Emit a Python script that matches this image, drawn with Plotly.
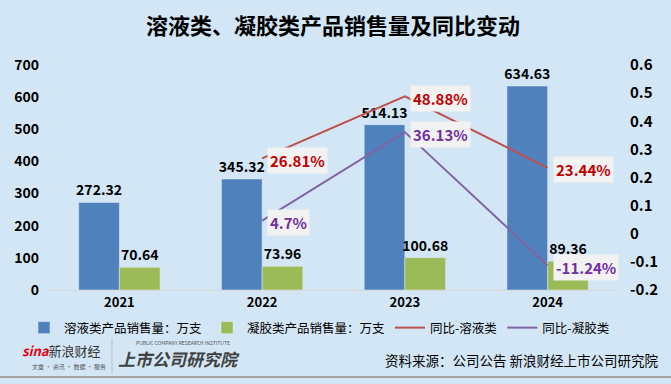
import plotly.graph_objects as go

years = ["2021", "2022", "2023", "2024"]
solution_sales = [272.32, 345.32, 514.13, 634.63]
gel_sales = [70.64, 73.96, 100.68, 89.36]
yoy_solution = [None, 0.2681, 0.4888, 0.2344]
yoy_gel = [None, 0.047, 0.3613, -0.1124]
yoy_solution_text = [None, "26.81%", "48.88%", "23.44%"]
yoy_gel_text = [None, "4.7%", "36.13%", "-11.24%"]
left_ticks = [0, 100, 200, 300, 400, 500, 600, 700]
right_ticks = [-0.2, -0.1, 0, 0.1, 0.2, 0.3, 0.4, 0.5, 0.6]
right_tick_text = ["-0.2", "-0.1", "0", "0.1", "0.2", "0.3", "0.4", "0.5", "0.6"]

FONT = "Noto Sans CJK SC, Liberation Sans, sans-serif"
BG = "#D3E6F5"
W, H = 671, 384
L, R, T, B = 48, 52, 65, 94
PW, PH = W - L - R, H - T - B


def px(x):
    return (x - L) / PW


def py(y):
    return (H - B - y) / PH


fig = go.Figure()
fig.add_trace(go.Bar(
    x=years, y=solution_sales, name="溶液类产品销售量：万支",
    marker_color="#4F81BD", text=[f"{v:.2f}" for v in solution_sales],
    textposition="outside", cliponaxis=False, constraintext="none",
    textfont=dict(size=14, color="#000000", family=FONT, weight="bold"),
))
fig.add_trace(go.Bar(
    x=years, y=gel_sales, name="凝胶类产品销售量：万支",
    marker_color="#9BBB59", text=[f"{v:.2f}" for v in gel_sales],
    textposition="outside", cliponaxis=False, constraintext="none",
    textfont=dict(size=14, color="#000000", family=FONT, weight="bold"),
))
fig.add_trace(go.Scatter(
    x=years, y=yoy_solution, name="同比-溶液类", mode="lines",
    line=dict(color="#C0504D", width=2), yaxis="y2",
))
fig.add_trace(go.Scatter(
    x=years, y=yoy_gel, name="同比-凝胶类", mode="lines",
    line=dict(color="#8064A2", width=2), yaxis="y2",
))

# YoY labels: category axis annotations use category index
for vals, texts, col in [(yoy_solution, yoy_solution_text, "#C00000"),
                         (yoy_gel, yoy_gel_text, "#7030A0")]:
    for i, (v, t) in enumerate(zip(vals, texts)):
        if v is None:
            continue
        fig.add_annotation(
            x=i, y=v, xref="x", yref="y2", text=t, showarrow=False,
            xanchor="left", yanchor="middle", xshift=5, yshift=-2,
            bgcolor="#F2F2F2", borderpad=2,
            font=dict(size=15, color=col, family=FONT, weight="bold"),
        )

# Title
fig.add_annotation(
    text="<b>溶液类、凝胶类产品销售量及同比变动</b>", x=px(333), y=py(24),
    xref="paper", yref="paper", showarrow=False,
    xanchor="center", yanchor="middle",
    font=dict(size=22, color="#000000", family=FONT),
)
# Source
fig.add_annotation(
    text="资料来源：公司公告 新浪财经上市公司研究院", x=px(661), xanchor="right",
    y=py(360), yanchor="middle", xref="paper", yref="paper", showarrow=False,
    font=dict(size=13.5, color="#000000", family=FONT),
)
# footer logos (as text)
fig.add_annotation(text="<i><b><span style='color:#E60012'>sina</span></b></i>新浪财经",
                   x=px(20), xanchor="left", y=py(350), yanchor="middle",
                   xref="paper", yref="paper", showarrow=False,
                   font=dict(size=13, color="#333333", family=FONT))
fig.add_annotation(text="文章 · 资讯 · 数据 · 服务",
                   x=px(30), xanchor="left", y=py(366), yanchor="middle",
                   xref="paper", yref="paper", showarrow=False,
                   font=dict(size=6, color="#555555", family=FONT))
fig.add_annotation(text="PUBLIC COMPANY RESEARCH INSTITUTE",
                   x=px(232), xanchor="right", y=py(342), yanchor="middle",
                   xref="paper", yref="paper", showarrow=False,
                   font=dict(size=5, color="#555555", family=FONT))
fig.add_annotation(text="<i><b>上市公司研究院</b></i>",
                   x=px(116), xanchor="left", y=py(358), yanchor="middle",
                   xref="paper", yref="paper", showarrow=False,
                   font=dict(size=17, color="#404040", family=FONT))
fig.add_shape(type="line", xref="paper", yref="paper",
              x0=px(112), x1=px(112), y0=py(338), y1=py(374),
              line=dict(color="#BFBFBF", width=1))
fig.add_shape(type="line", xref="paper", yref="paper",
              x0=px(0), x1=px(W), y0=py(377), y1=py(377),
              line=dict(color="#A6A6A6", width=2))

fig.update_layout(
    width=W, height=H,
    paper_bgcolor=BG, plot_bgcolor=BG,
    margin=dict(l=L, r=R, t=T, b=B, autoexpand=False),
    barmode="group", bargap=0.43, bargroupgap=0,
    font=dict(family=FONT, color="#000000"),
    showlegend=True,
    legend=dict(orientation="h", xref="paper", yref="paper",
                x=px(24), xanchor="left", y=py(328), yanchor="middle",
                font=dict(size=12.5, family=FONT), bgcolor="rgba(0,0,0,0)",
                itemwidth=30, tracegroupgap=0),
    xaxis=dict(type="category", showgrid=False, showline=True, linecolor="#D9D9D9",
               ticks="", tickfont=dict(size=13, family=FONT, weight="bold")),
    yaxis=dict(range=[0, 700], tickvals=left_ticks, showgrid=False, zeroline=False,
               showline=False, ticklabelstandoff=8,
               tickfont=dict(size=14, family=FONT, weight="bold")),
    yaxis2=dict(range=[-0.2, 0.6], tickvals=right_ticks, ticktext=right_tick_text,
                overlaying="y", side="right", showgrid=False, zeroline=False,
                showline=False, ticklabelstandoff=10,
                tickfont=dict(size=15, family=FONT, weight="bold")),
)

fig.write_html("out.html", config={"displayModeBar": False},
               post_script="document.body.style.margin='0';")
